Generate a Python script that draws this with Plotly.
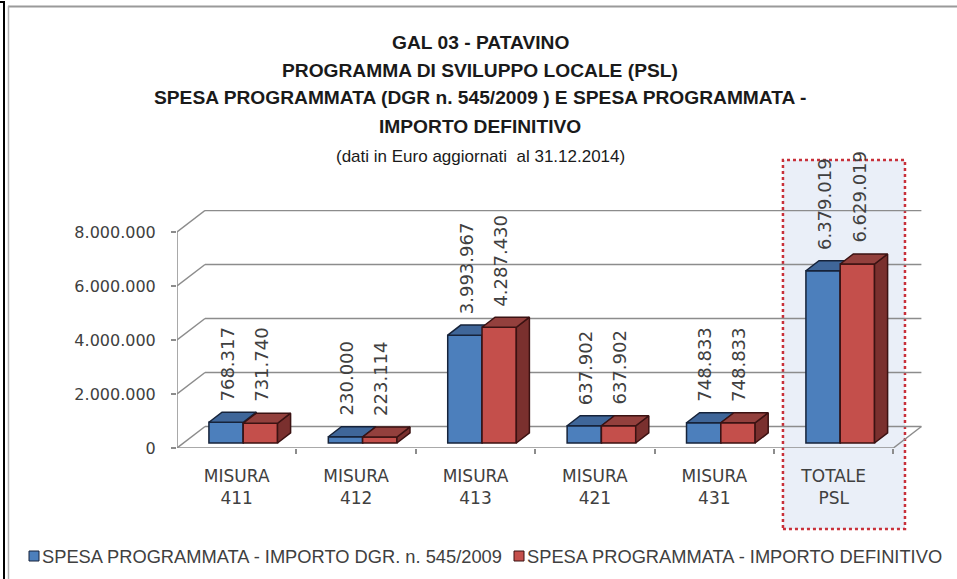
import plotly.graph_objects as go

# ---------------- data ----------------
categories = ["MISURA<br>411", "MISURA<br>412", "MISURA<br>413",
              "MISURA<br>421", "MISURA<br>431", "TOTALE<br>PSL"]
dgr_values = [768317, 230000, 3993967, 637902, 748833, 6379019]
def_values = [731740, 223114, 4287430, 637902, 748833, 6629019]
series_names = ["SPESA PROGRAMMATA - IMPORTO DGR. n. 545/2009",
                "SPESA PROGRAMMATA - IMPORTO DEFINITIVO"]
y_tick_values = [0, 2000000, 4000000, 6000000, 8000000]
y_tick_labels = ["0", "2.000.000", "4.000.000", "6.000.000", "8.000.000"]
title_lines = ["GAL 03 - PATAVINO",
               "PROGRAMMA DI SVILUPPO LOCALE (PSL)",
               "SPESA PROGRAMMATA (DGR n. 545/2009 ) E SPESA PROGRAMMATA -",
               "IMPORTO DEFINITIVO"]
subtitle = "(dati in Euro aggiornati  al 31.12.2014)"

# ---------------- geometry / style ----------------
W, H = 957, 579
PL, PR, PT, PB = 177, 922, 210, 448          # plot box in pixels
CAT_PX = 119.4                               # pixels per category (front plane)
Y_PX_PER_UNIT = 27e-6                        # pixels per euro
XMIN = -0.5
XMAX = XMIN + (PR - PL) / CAT_PX
YMAX = (PB - PT) / Y_PX_PER_UNIT
DX = 28 / CAT_PX                             # depth vector (x units)
DY = 21.5 / Y_PX_PER_UNIT                    # depth vector (y units)
F0, F1 = 0.233, 0.70                         # bar depth (front/back) fractions
BW = 34.3 / CAT_PX                           # single bar width
dDX, dDY = (F1 - F0) * DX, (F1 - F0) * DY
BASE = F0 * DY

BLUE = dict(front="#4c7fbc", top="#3f6699", side="#34557f", line="#16233a")
RED = dict(front="#c44f4b", top="#93403d", side="#7a302e", line="#3b1212")
GRID = "#8c8c8c"
TXT = "#404040"
SANS = "Liberation Sans, Arial, sans-serif"
VERD = "DejaVu Sans, Verdana, sans-serif"
LEG_SIZE = 18.3


def pxx(px):
    return (px - PL) / (PR - PL)


def pyy(py):
    return (PB - py) / (PB - PT)


def fmt(v):
    return f"{v:,}".replace(",", ".")


fig = go.Figure()


def add_series(vals, shift, col, xa, ya, name):
    idx = list(range(len(vals)))
    xc = [i + F0 * DX + shift for i in idx]
    fig.add_trace(go.Bar(x=xc, y=vals, base=[BASE] * len(vals), width=BW,
                         name=name, xaxis=xa, yaxis=ya, showlegend=False,
                         marker=dict(color=col["front"],
                                     line=dict(color=col["line"], width=1.5)),
                         hovertemplate="%{y:,}<extra></extra>"))
    tx, ty, sx, sy = [], [], [], []
    for i, v in enumerate(vals):
        xl, xr = xc[i] - BW / 2, xc[i] + BW / 2
        t = BASE + v
        tx += [xl, xr, xr + dDX, xl + dDX, xl, None]
        ty += [t, t, t + dDY, t + dDY, t, None]
        sx += [xr, xr, xr + dDX, xr + dDX, xr, None]
        sy += [BASE, t, t + dDY, BASE + dDY, BASE, None]
    for px_, py_, c in ((sx, sy, col["side"]), (tx, ty, col["top"])):
        fig.add_trace(go.Scatter(x=px_, y=py_, mode="lines", fill="toself",
                                 fillcolor=c, line=dict(color=col["line"], width=1.5),
                                 xaxis=xa, yaxis=ya, showlegend=False,
                                 hoverinfo="skip"))
    return xc


xc_blue = add_series(dgr_values, -BW / 2, BLUE, "x", "y", series_names[0])
xc_red = add_series(def_values, BW / 2, RED, "x2", "y2", series_names[1])

# ---------------- data labels ----------------
annotations = []
for xc, vals in ((xc_blue, dgr_values), (xc_red, def_values)):
    for x, v in zip(xc, vals):
        annotations.append(dict(x=x + 0.01, y=BASE + v, xref="x", yref="y",
                                text=fmt(v), textangle=-90, showarrow=False,
                                xanchor="center", yanchor="bottom", yshift=19,
                                font=dict(family=VERD, size=18, color=TXT)))

# ---------------- titles ----------------
title_y = [42, 70, 98, 127]
for t, y in zip(title_lines, title_y):
    annotations.append(dict(x=pxx(480), y=pyy(y), xref="paper", yref="paper",
                            text=f"<b>{t}</b>", showarrow=False,
                            xanchor="center", yanchor="middle",
                            font=dict(family=SANS, size=19.2, color="#1a1a1a")))
annotations.append(dict(x=pxx(480), y=pyy(157), xref="paper", yref="paper",
                        text=subtitle, showarrow=False,
                        xanchor="center", yanchor="middle",
                        font=dict(family=SANS, size=17, color="#1a1a1a")))

# ---------------- legend (manual) ----------------
shapes = []
LEG_Y = 556
shapes.append(dict(type="rect", xref="paper", yref="paper",
                   x0=pxx(29), x1=pxx(39), y0=pyy(LEG_Y + 5), y1=pyy(LEG_Y - 5),
                   fillcolor=BLUE["front"], line=dict(color=BLUE["line"], width=1)))
annotations.append(dict(x=pxx(40), y=pyy(LEG_Y), xref="paper", yref="paper",
                        text=series_names[0], showarrow=False, xanchor="left",
                        yanchor="middle",
                        font=dict(family=SANS, size=LEG_SIZE, color=TXT)))
shapes.append(dict(type="rect", xref="paper", yref="paper",
                   x0=pxx(514), x1=pxx(524), y0=pyy(LEG_Y + 5), y1=pyy(LEG_Y - 5),
                   fillcolor=RED["front"], line=dict(color=RED["line"], width=1)))
annotations.append(dict(x=pxx(525), y=pyy(LEG_Y), xref="paper", yref="paper",
                        text=series_names[1], showarrow=False, xanchor="left",
                        yanchor="middle",
                        font=dict(family=SANS, size=LEG_SIZE, color=TXT)))

# ---------------- background shapes ----------------
bg = []
bg.append(dict(type="rect", xref="x", yref="paper", x0=4.575, x1=5.597,
               y0=pyy(529), y1=pyy(160), fillcolor="#eaeff8",
               line=dict(color="#c8303a", width=2.5, dash="dot"), layer="below"))
for v in y_tick_values:
    bg.append(dict(type="line", xref="x", yref="y", x0=XMIN, y0=v,
                   x1=XMIN + DX, y1=v + DY, line=dict(color=GRID, width=1.5),
                   layer="below"))
    bg.append(dict(type="line", xref="x", yref="y", x0=XMIN + DX, y0=v + DY,
                   x1=5.5 + DX, y1=v + DY, line=dict(color=GRID, width=1.5),
                   layer="below"))
bg.append(dict(type="line", xref="x", yref="y", x0=XMIN, y0=0, x1=5.5, y1=0,
               line=dict(color=GRID, width=1.5), layer="below"))
bg.append(dict(type="line", xref="x", yref="y", x0=5.5, y0=0, x1=5.5 + DX, y1=DY,
               line=dict(color=GRID, width=1.5), layer="below"))
bg.append(dict(type="line", xref="x", yref="y", x0=XMIN, y0=0, x1=XMIN,
               y1=y_tick_values[-1], line=dict(color=GRID, width=1.5), layer="below"))
# frame
bg.append(dict(type="line", xref="paper", yref="paper", x0=pxx(4), x1=pxx(4),
               y0=pyy(2), y1=pyy(H), line=dict(color="#000000", width=2), layer="below"))
bg.append(dict(type="line", xref="paper", yref="paper", x0=pxx(0), x1=pxx(5),
               y0=pyy(2), y1=pyy(2), line=dict(color="#000000", width=2), layer="below"))
bg.append(dict(type="line", xref="paper", yref="paper", x0=pxx(8), x1=pxx(W),
               y0=pyy(6.5), y1=pyy(6.5), line=dict(color="#9a9a9a", width=2), layer="below"))
bg.append(dict(type="line", xref="paper", yref="paper", x0=pxx(8.5), x1=pxx(8.5),
               y0=pyy(6), y1=pyy(H), line=dict(color="#b0b0b0", width=1.5), layer="below"))

axis_common = dict(showgrid=False, zeroline=False, showline=False)
fig.update_layout(
    width=W, height=H, autosize=False,
    margin=dict(l=PL, r=W - PR, t=PT, b=H - PB, pad=0),
    paper_bgcolor="white", plot_bgcolor="rgba(0,0,0,0)",
    barmode="overlay", showlegend=False,
    xaxis=dict(range=[XMIN, XMAX], tickvals=list(range(len(categories))),
               ticktext=categories, ticks="", ticklabelstandoff=16,
               tickfont=dict(family=VERD, size=17, color=TXT),
               minor=dict(tickvals=[i + 0.5 for i in range(len(categories))],
                          ticks="outside", ticklen=5, tickcolor=GRID, tickwidth=1.5),
               **axis_common),
    yaxis=dict(range=[0, YMAX], tickvals=y_tick_values, ticktext=y_tick_labels,
               ticks="outside", ticklen=5, tickcolor=GRID, tickwidth=1.5,
               ticklabelstandoff=12,
               tickfont=dict(family=VERD, size=16, color=TXT), **axis_common),
    xaxis2=dict(range=[XMIN, XMAX], overlaying="x", visible=False, **axis_common),
    yaxis2=dict(range=[0, YMAX], overlaying="y", visible=False, **axis_common),
    shapes=bg + shapes,
    annotations=annotations,
)

fig.write_html("out.html", config={"displayModeBar": False},
               post_script="document.body.style.margin='0';")
